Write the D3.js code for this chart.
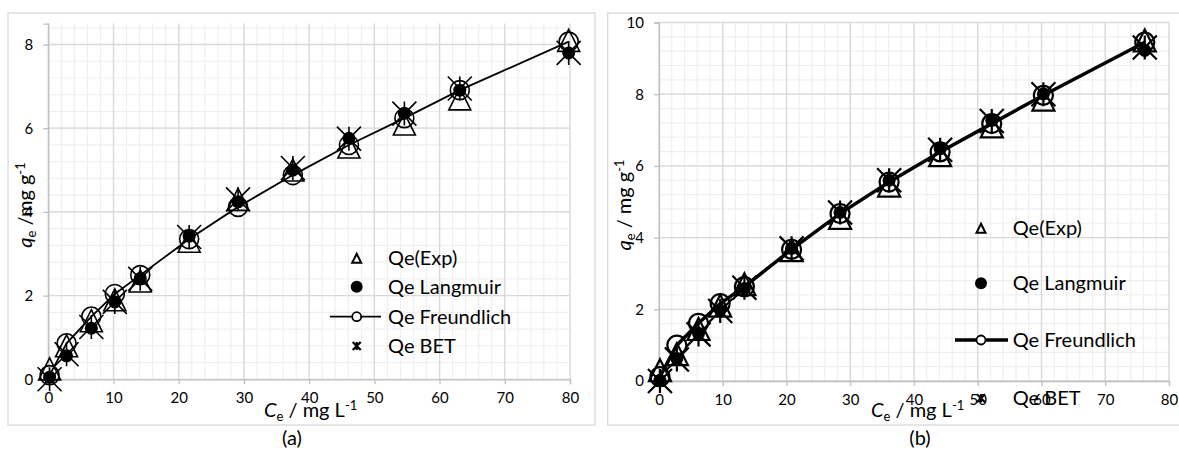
<!DOCTYPE html>
<meta charset="utf-8">
<style>
body { margin: 0; background: #fff; }
text { font-family: Lato, "Open Sans", sans-serif; fill: #000; }
.title { font-size: 20px; }
.legend text { font-size: 20px; }
.panel-label { font-size: 20px; }
</style>
<svg width="1179" height="455"></svg>
<script src="https://d3js.org/d3.v7.min.js"></script>
<script>

// ---- data, panel (a)
var ceA         = [0.2, 2.8, 6.6, 10.2, 14.1, 21.6, 29.1, 37.5, 46.1, 54.6, 63.1, 79.8];
var expA        = [0.25, 0.8, 1.4, 1.9, 2.35, 3.3, 4.3, 5.0, 5.55, 6.1, 6.7, 8.1];
var langmuirA   = [0.05, 0.56, 1.22, 1.85, 2.41, 3.42, 4.24, 5.0, 5.76, 6.36, 6.91, 7.8];
var freundlichA = [0.1, 0.86, 1.5, 2.04, 2.49, 3.35, 4.12, 4.88, 5.6, 6.24, 6.91, 8.07];
var betA        = [0.0, 0.6, 1.25, 1.85, 2.4, 3.4, 4.3, 5.05, 5.75, 6.35, 6.95, 7.8];

// ---- data, panel (b)
var ceB         = [0.15, 2.8, 6.2, 9.6, 13.4, 20.8, 28.4, 36.1, 44.1, 52.2, 60.3, 76.2];
var expB        = [0.3, 0.75, 1.45, 2.1, 2.7, 3.65, 4.55, 5.45, 6.3, 7.1, 7.85, 9.5];
var langmuirB   = [0.02, 0.63, 1.33, 1.98, 2.58, 3.7, 4.7, 5.6, 6.48, 7.27, 8.01, 9.22];
var freundlichB = [0.12, 1.0, 1.61, 2.16, 2.63, 3.67, 4.67, 5.55, 6.39, 7.18, 7.97, 9.45];
var betB        = [0.0, 0.6, 1.3, 1.95, 2.6, 3.7, 4.7, 5.6, 6.45, 7.25, 8.0, 9.3];

var xTicks = [0, 10, 20, 30, 40, 50, 60, 70, 80];
var yTicksA = [0, 2, 4, 6, 8];
var yTicksB = [0, 2, 4, 6, 8, 10];
var legendNames = ["Qe(Exp)", "Qe Langmuir", "Qe Freundlich", "Qe BET"];

var svg = d3.select("svg");

function zip(xs, ys) { return xs.map(function(x, i) { return {x: x, y: ys[i]}; }); }

function triangle(g, cx, cy, s, sw) {
  g.append("path")
    .attr("d", "M" + cx + "," + (cy - s) + "L" + (cx + s) + "," + (cy + s) + "L" + (cx - s) + "," + (cy + s) + "Z")
    .attr("fill", "none").attr("stroke", "#000").attr("stroke-width", sw);
}
function star(g, cx, cy, s, sw) {
  g.append("path")
    .attr("d", "M" + (cx - s) + "," + (cy - s) + "L" + (cx + s) + "," + (cy + s) +
               "M" + (cx + s) + "," + (cy - s) + "L" + (cx - s) + "," + (cy + s) +
               "M" + cx + "," + (cy - s) + "L" + cx + "," + (cy + s))
    .attr("fill", "none").attr("stroke", "#000").attr("stroke-width", sw);
}

function drawPanel(p) {
  var g = svg.append("g");

  g.append("rect")
    .attr("x", p.box[0]).attr("y", p.box[1]).attr("width", p.box[2]).attr("height", p.box[3])
    .attr("fill", "#fff").attr("stroke", "#d9d9d9").attr("stroke-width", 1.3);

  var x = d3.scaleLinear().domain([0, 80]).range([p.left, p.right]);
  var y = d3.scaleLinear().domain([0, p.yMax]).range([p.bottom, p.top]);

  // minor grid
  g.selectAll(".vminor").data(d3.range(0, 80.01, 2)).enter().append("line")
    .attr("x1", function(d) { return x(d); }).attr("x2", function(d) { return x(d); })
    .attr("y1", y(0)).attr("y2", y(p.yMax))
    .attr("stroke", "#efefef").attr("stroke-width", 1.2);
  g.selectAll(".hminor").data(d3.range(0, p.yMax + 0.001, 0.4)).enter().append("line")
    .attr("x1", x(0)).attr("x2", x(80))
    .attr("y1", function(d) { return y(d); }).attr("y2", function(d) { return y(d); })
    .attr("stroke", "#efefef").attr("stroke-width", 1.2);
  // major grid
  g.selectAll(".vmajor").data(xTicks).enter().append("line")
    .attr("x1", function(d) { return x(d); }).attr("x2", function(d) { return x(d); })
    .attr("y1", y(0)).attr("y2", y(p.yMax))
    .attr("stroke", "#d9d9d9").attr("stroke-width", 1.3);
  g.selectAll(".hmajor").data(p.yTicks).enter().append("line")
    .attr("x1", x(0)).attr("x2", x(80))
    .attr("y1", function(d) { return y(d); }).attr("y2", function(d) { return y(d); })
    .attr("stroke", "#d9d9d9").attr("stroke-width", 1.3);

  // axes
  var xa = g.append("g").attr("transform", "translate(0," + y(0) + ")")
    .call(d3.axisBottom(x).tickValues(xTicks).tickSize(5).tickPadding(8));
  var ya = g.append("g").attr("transform", "translate(" + x(0) + ",0)")
    .call(d3.axisLeft(y).tickValues(p.yTicks).tickSize(5).tickPadding(10));
  [xa, ya].forEach(function(a) {
    a.select(".domain").attr("stroke", "#bfbfbf").attr("stroke-width", 1.3);
    a.selectAll(".tick line").attr("stroke", "#bfbfbf").attr("stroke-width", 1.3);
    a.selectAll(".tick text").attr("fill", "#000")
      .style("font-family", "Lato, 'Open Sans', sans-serif").style("font-size", "15px");
  });

  var marks = g.append("g");
  var exp = zip(p.ce, p.exp), lang = zip(p.ce, p.lang), fr = zip(p.ce, p.fr), bet = zip(p.ce, p.bet);

  exp.forEach(function(d) { triangle(marks, x(d.x), y(d.y), 11, p.msw); });
  marks.selectAll(".lang").data(lang).enter().append("circle")
    .attr("cx", function(d) { return x(d.x); }).attr("cy", function(d) { return y(d.y); })
    .attr("r", 6.5).attr("fill", "#000");
  marks.append("path").datum(fr)
    .attr("d", d3.line().x(function(d) { return x(d.x); }).y(function(d) { return y(d.y); }))
    .attr("fill", "none").attr("stroke", "#000").attr("stroke-width", p.lw);
  marks.selectAll(".fr").data(fr).enter().append("circle")
    .attr("cx", function(d) { return x(d.x); }).attr("cy", function(d) { return y(d.y); })
    .attr("r", 9.5).attr("fill", "none").attr("stroke", "#000").attr("stroke-width", p.msw);
  bet.forEach(function(d) { star(marks, x(d.x), y(d.y), 12, p.msw); });

  // axis titles
  var xt = g.append("text").attr("class", "title").attr("x", p.xTitle[0]).attr("y", p.xTitle[1]);
  xt.append("tspan").style("font-style", "italic").text("C");
  xt.append("tspan").attr("dy", 4).style("font-size", "13px").text("e");
  xt.append("tspan").attr("dy", -4).text(p.xSep + "mg L");
  xt.append("tspan").attr("dy", -7).style("font-size", "13px").text("-1");

  var yt = g.append("text").attr("class", "title")
    .attr("transform", "translate(" + p.yTitle[0] + "," + p.yTitle[1] + ") rotate(-90)")
    .attr("text-anchor", "middle");
  yt.append("tspan").style("font-style", "italic").text("q");
  yt.append("tspan").attr("dy", 4).style("font-size", "13px").text("e");
  yt.append("tspan").attr("dy", -4).text(p.ySep + "mg g");
  yt.append("tspan").attr("dy", -7).style("font-size", "13px").text("-1");

  // legend
  var lg = g.append("g").attr("class", "legend");
  legendNames.forEach(function(name, i) {
    var cy = p.legRows[i], mx = p.legX;
    if (i === 0) triangle(lg, mx, cy, 4.5, 2);
    if (i === 1) lg.append("circle").attr("cx", mx).attr("cy", cy).attr("r", 6).attr("fill", "#000");
    if (i === 2) {
      lg.append("line").attr("x1", p.legLine[0]).attr("x2", p.legLine[1]).attr("y1", cy).attr("y2", cy)
        .attr("stroke", "#000").attr("stroke-width", p.lw);
      lg.append("circle").attr("cx", mx).attr("cy", cy).attr("r", 4.5)
        .attr("fill", "#fff").attr("stroke", "#000").attr("stroke-width", 1.8);
    }
    if (i === 3) star(lg, mx, cy, 4, 2.2);
    lg.append("text").attr("x", p.legText).attr("y", cy).attr("dy", "0.35em").text(name);
  });

  g.append("text").attr("class", "panel-label").attr("x", p.label[0]).attr("y", p.label[1])
    .attr("text-anchor", "middle").text(p.labelText);
}

drawPanel({
  box: [8, 13, 587, 412], left: 48.3, right: 570, bottom: 379.3, top: 23.6,
  yMax: 8.5, yTicks: yTicksA,
  ce: ceA, exp: expA, lang: langmuirA, fr: freundlichA, bet: betA,
  lw: 1.8, msw: 1.6,
  xTitle: [264, 417], xSep: " / ", yTitle: [32, 205], ySep: " /",
  legX: 356.7, legText: 388, legLine: [330, 381], legRows: [258.3, 286.7, 316.7, 346],
  label: [292, 445], labelText: "(a)"
});

drawPanel({
  box: [607.7, 13, 580, 412], left: 659, right: 1169, bottom: 381, top: 22.5,
  yMax: 10, yTicks: yTicksB,
  ce: ceB, exp: expB, lang: langmuirB, fr: freundlichB, bet: betB,
  lw: 3.5, msw: 2.2,
  xTitle: [871, 417], xSep: " / ", yTitle: [631, 205], ySep: " / ",
  legX: 981, legText: 1012.7, legLine: [955, 1008], legRows: [228.3, 283.3, 340, 398.3],
  label: [920, 445], labelText: "(b)"
});

</script>
